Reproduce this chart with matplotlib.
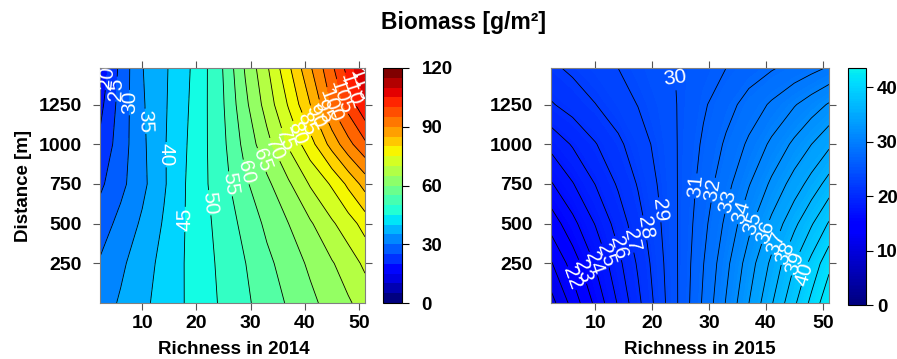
import numpy as np
import matplotlib
matplotlib.use("Agg")
import matplotlib.pyplot as plt
from matplotlib.colors import ListedColormap, Normalize
from matplotlib.cm import ScalarMappable

plt.rcParams['font.family'] = ['Liberation Sans', 'DejaVu Sans']

# ---------------- data ----------------
richness = [2.2, 6, 10, 14, 17.5, 21, 25, 29, 33, 37, 41, 45, 48, 51.1]
distance = [0, 250, 500, 750, 1000, 1250, 1480]

# rows follow distance, columns follow richness
biomass_2014 = [
    [32.5, 35.6, 38.8, 42.0, 44.8, 47.7, 50.9, 54.1, 57.3, 60.6, 63.8, 67.0, 69.4, 72.0],
    [30.5, 34.0, 37.8, 41.5, 44.8, 47.9, 51.4, 54.9, 58.8, 62.4, 65.9, 69.6, 72.5, 76.0],
    [27.5, 31.5, 35.8, 40.5, 44.6, 48.2, 52.2, 56.5, 61.1, 65.0, 69.4, 74.3, 77.7, 82.0],
    [24.0, 28.6, 33.7, 39.4, 44.4, 48.7, 53.3, 59.2, 63.9, 69.3, 75.5, 80.7, 86.1, 92.0],
    [21.0, 27.5, 34.0, 39.5, 44.0, 48.6, 54.1, 61.6, 68.4, 75.7, 83.1, 91.9, 98.4, 104.0],
    [18.5, 27.0, 34.4, 39.3, 43.5, 48.4, 54.8, 63.8, 72.1, 80.5, 90.0, 100.6, 107.0, 114.0],
    [16.0, 26.5, 34.8, 39.2, 43.0, 48.2, 55.3, 65.5, 74.3, 84.0, 94.4, 104.0, 112.0, 121.0],
]
biomass_2015 = [
    [19.6, 21.37, 23.24, 25.10, 26.74, 28.37, 30.24, 32.16, 34.07, 35.99, 37.90, 39.82, 41.26, 42.8],
    [20.9, 22.45, 24.08, 25.71, 27.14, 28.57, 30.22, 31.97, 33.72, 35.48, 37.23, 38.98, 40.29, 41.7],
    [22.4, 23.70, 25.06, 26.42, 27.61, 28.81, 30.19, 31.70, 33.22, 34.73, 36.24, 37.76, 38.89, 40.1],
    [23.9, 24.94, 26.03, 27.13, 28.08, 29.04, 30.16, 31.42, 32.67, 33.93, 35.19, 36.45, 37.39, 38.4],
    [25.3, 26.10, 26.94, 27.79, 28.53, 29.26, 30.13, 31.15, 32.16, 33.18, 34.20, 35.22, 35.99, 36.8],
    [26.9, 27.43, 27.98, 28.54, 29.03, 29.51, 30.10, 30.86, 31.62, 32.39, 33.15, 33.92, 34.49, 35.1],
    [27.8, 28.2, 28.6, 29.0, 29.4, 29.7, 30.1, 30.6, 31.0, 31.5, 31.9, 32.35, 32.7, 33.1],
]

line_levels_2014 = list(range(20, 125, 5))
label_levels_2014 = list(range(20, 120, 5))
line_levels_2015 = list(range(20, 43))
label_levels_2015 = list(range(22, 41))

x_ticks = [10, 20, 30, 40, 50]
y_ticks = [250, 500, 750, 1000, 1250]
cbar_ticks_2014 = [0, 30, 60, 90, 120]
cbar_ticks_2015 = [0, 10, 20, 30, 40]
cbar_max_2015 = 43.5

title = "Biomass [g/m²]"
xlabel_2014 = "Richness in 2014"
xlabel_2015 = "Richness in 2015"
ylabel = "Distance [m]"

# ---------------- styling ----------------
jet = plt.get_cmap('jet')
cmap_2014 = ListedColormap(jet(np.linspace(0, 1, 24)))      # banded colour key
norm_2014 = Normalize(0, 120)
fill_cmap_2014 = ListedColormap(jet(np.linspace(0, 1, 256)))
fill_norm_2014 = Normalize(0, 128)
cmap_2015 = ListedColormap(jet(np.linspace(0, cbar_max_2015 / 120, 256)))
norm_2015 = Normalize(0, cbar_max_2015)
fill_norm_2015 = Normalize(12, cbar_max_2015)

W, H = 897, 359
fig = plt.figure(figsize=(W / 100, H / 100), dpi=100)

def fx(px):
    return px / W

def fy(py):
    return py / H

ax1 = fig.add_axes([fx(100), fy(56), fx(265), fy(235)])
cax1 = fig.add_axes([fx(383), fy(56), fx(19), fy(235)])
ax2 = fig.add_axes([fx(551), fy(56), fx(278), fy(235)])
cax2 = fig.add_axes([fx(848), fy(54), fx(18), fy(237)])

X, Y = np.meshgrid(np.array(richness), np.array(distance))
Z1 = np.array(biomass_2014)
Z2 = np.array(biomass_2015)


def nearest_on_contour(cs, level, guide, ax):
    """point on the drawn contour of `level` closest to a guide polyline"""
    x0, x1 = ax.get_xlim()
    y0, y1 = ax.get_ylim()
    g = np.array(guide, float)
    g[:, 0] = (g[:, 0] - x0) / (x1 - x0)
    g[:, 1] = (g[:, 1] - y0) / (y1 - y0)
    idx = list(cs.levels).index(level)
    path = cs.get_paths()[idx]
    best, best_d = None, np.inf
    for poly in path.to_polygons(closed_only=False):
        if len(poly) < 2:
            continue
        pts = []
        for a, b in zip(poly[:-1], poly[1:]):
            t = np.linspace(0, 1, 20)[:, None]
            pts.append(a + (b - a) * t)
        pts = np.concatenate(pts)
        pn = np.column_stack([(pts[:, 0] - x0) / (x1 - x0), (pts[:, 1] - y0) / (y1 - y0)])
        dmin = np.full(len(pn), np.inf)
        for a, b in zip(g[:-1], g[1:]):
            ab = b - a
            t = np.clip(((pn - a) @ ab) / (ab @ ab), 0, 1)
            proj = a + t[:, None] * ab
            d = np.hypot(*(pn - proj).T)
            dmin = np.minimum(dmin, d)
        k = np.argmin(dmin)
        if dmin[k] < best_d:
            best_d = dmin[k]
            best = pts[k]
    return best


def style_axes(ax, xlabel, show_ylabel, xlabel_x):
    ax.set_xlim(2.2, 51.1)
    ax.set_ylim(0, 1480)
    ax.set_xticks(x_ticks)
    ax.set_yticks(y_ticks)
    ax.tick_params(direction='out', length=5, width=0.8, color='#555555',
                   top=True, right=True, labeltop=False, labelright=False,
                   labelsize=14, pad=4)
    ax.tick_params(axis='y', pad=8)
    for lab in ax.get_xticklabels() + ax.get_yticklabels():
        lab.set_fontweight('bold')
    for sp in ax.spines.values():
        sp.set_color('#808080')
        sp.set_linewidth(0.8)
    ax.set_xlabel(xlabel, fontsize=13.5, fontweight='bold')
    ax.xaxis.set_label_coords(xlabel_x, -0.162)
    if show_ylabel:
        ax.set_ylabel(ylabel, fontsize=13.5, fontweight='bold', labelpad=5)


label_kw = dict(inline=True, inline_spacing=1, fontsize=15, colors='white', fmt='%d')

# ---------- left panel ----------
style_axes(ax1, xlabel_2014, True, 0.504)
ax1.contourf(X, Y, Z1, levels=np.arange(0, 130, 5), cmap=fill_cmap_2014, norm=fill_norm_2014)
cs1 = ax1.contour(X, Y, Z1, levels=line_levels_2014, colors='black', linewidths=0.6)
guide1 = [(3.3, 1420), (13.5, 1040), (17.8, 520), (21.5, 600), (26, 740), (49.5, 1370)]
pts1 = [nearest_on_contour(cs1, lev, guide1, ax1) for lev in label_levels_2014]
ax1.clabel(cs1, manual=[tuple(p) for p in pts1], **label_kw)

# ---------- right panel ----------
style_axes(ax2, xlabel_2015, False, 0.536)
ax2.contourf(X, Y, Z2, levels=np.linspace(18, 44, 105), cmap=cmap_2015, norm=fill_norm_2015)
cs2 = ax2.contour(X, Y, Z2, levels=line_levels_2015, colors='black', linewidths=0.6)
guide2 = [(5.5, 150), (12, 300), (17.5, 420), (22.5, 640), (26.5, 735), (30, 730), (40, 440), (47, 180)]
pts2 = []
for lev in label_levels_2015:
    if lev == 30:
        pts2.append(nearest_on_contour(cs2, lev, [(24.2, 1420), (24.3, 1430)], ax2))
    else:
        pts2.append(nearest_on_contour(cs2, lev, guide2, ax2))
texts2 = ax2.clabel(cs2, manual=[tuple(p) for p in pts2], **label_kw)
for t in texts2:
    if t.get_text() == '30':
        t.set_rotation(8)

# ---------- colorbars ----------
for cax, cmap, norm, ticks, pad in [(cax1, cmap_2014, norm_2014, cbar_ticks_2014, 9),
                                    (cax2, cmap_2015, norm_2015, cbar_ticks_2015, 3)]:
    cb = fig.colorbar(ScalarMappable(norm=norm, cmap=cmap), cax=cax, ticks=ticks)
    cb.outline.set_edgecolor('black')
    cb.outline.set_linewidth(0.8)
    cax.tick_params(direction='out', length=5, width=0.8, labelsize=13.5, pad=pad)
    for lab in cax.get_yticklabels():
        lab.set_fontweight('bold')

fig.text(0.517, 0.937, title, ha='center', va='center', fontsize=16.5, fontweight='bold')

fig.savefig('out.png', dpi=100)
